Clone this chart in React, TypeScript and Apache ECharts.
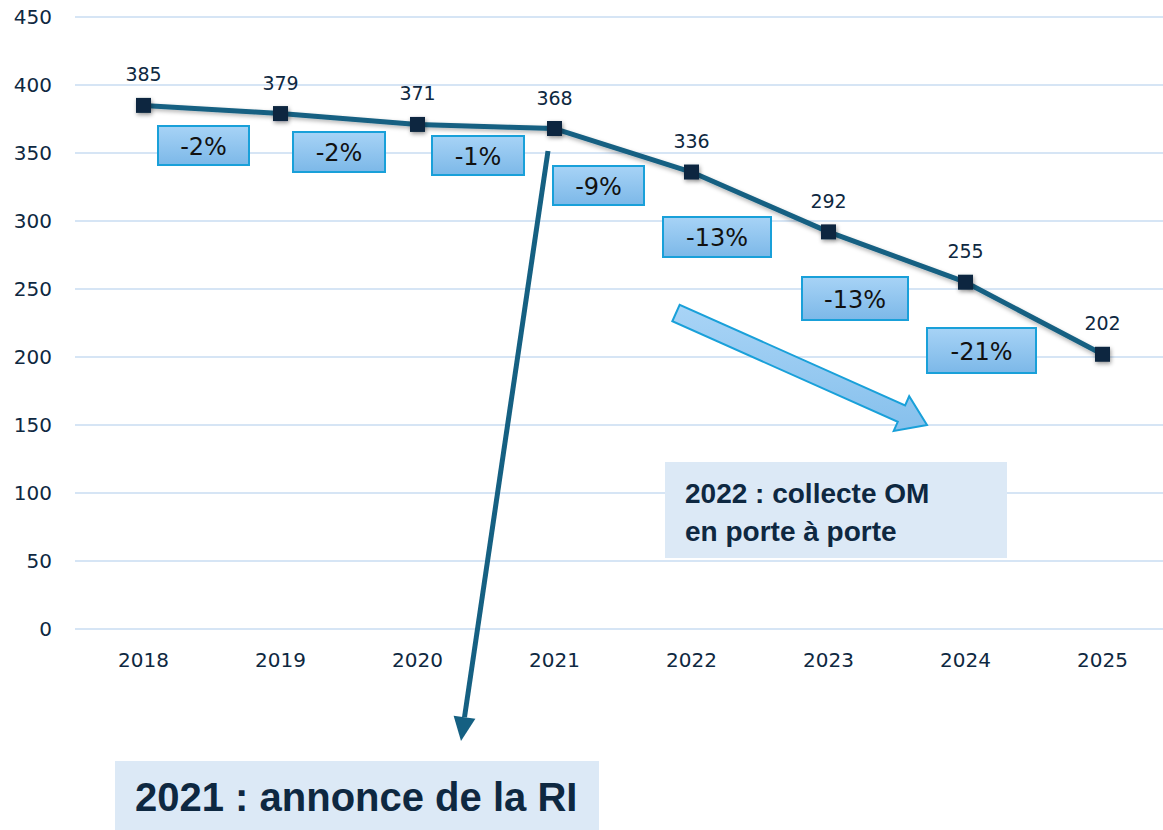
import React, { useEffect, useRef } from "react";
import * as echarts from "echarts";

const years = ["2018", "2019", "2020", "2021", "2022", "2023", "2024", "2025"];
const tonnage = [385, 379, 371, 368, 336, 292, 255, 202];
const changeLabels = ["-2%", "-2%", "-1%", "-9%", "-13%", "-13%", "-21%"];
const noteRI = "2021 : annonce de la RI";
const noteOMLines = ["2022 : collecte OM", "en porte à porte"];

// annotation layout (pixels): [x, y, width, height]
const boxLayout = [
  [158, 126, 91, 39],
  [293, 132, 92, 40],
  [432, 136, 92, 39],
  [553, 166, 91, 39],
  [663, 217, 108, 40],
  [802, 277, 106, 43],
  [927, 328, 109, 45],
];

const NAVY = "#0E2841";
const TEAL = "#156082";

export default function App() {
  const ref = useRef<HTMLDivElement>(null);
  useEffect(() => {
    document.body.style.margin = "0";
    document.body.style.overflow = "hidden";
    const chart = echarts.init(ref.current!, null, { renderer: "svg" });

    const boxGradient = () =>
      new echarts.graphic.LinearGradient(0, 0, 0, 1, [
        { offset: 0, color: "#A7D3F6" },
        { offset: 1, color: "#7CB8E8" },
      ]);

    const pctBoxes: any[] = [];
    changeLabels.forEach((lab, i) => {
      const [x, y, w, h] = boxLayout[i];
      pctBoxes.push({
        type: "rect",
        shape: { x, y, width: w, height: h },
        style: { fill: boxGradient(), stroke: "#19A0D9", lineWidth: 2 },
        z: 10,
      });
      pctBoxes.push({
        type: "text",
        style: {
          text: lab,
          x: x + w / 2,
          y: y + h / 2 + 1,
          textAlign: "center",
          textVerticalAlign: "middle",
          fontSize: 24,
          fontFamily: "DejaVu Sans",
          fill: "#111111",
        },
        z: 11,
      });
    });

    // light blue block arrow
    const T = [676, 313];
    const P = [927, 425];
    const dx = P[0] - T[0], dy = P[1] - T[1];
    const L = Math.hypot(dx, dy);
    const u = [dx / L, dy / L];
    const n = [-u[1], u[0]];
    const hl = 28, sw = 9, hw = 19;
    const B = [P[0] - hl * u[0], P[1] - hl * u[1]];
    const pt = (o: number[], k: number) => [o[0] + k * n[0], o[1] + k * n[1]];
    const blockArrow = {
      type: "polygon",
      shape: {
        points: [pt(T, sw), pt(T, -sw), pt(B, -sw), pt(B, -hw), P, pt(B, hw), pt(B, sw)],
      },
      style: {
        fill: new echarts.graphic.LinearGradient(0, 0, 0, 1, [
          { offset: 0, color: "#A9D4F6" },
          { offset: 1, color: "#86C0EC" },
        ]),
        stroke: "#19A0D9",
        lineWidth: 2,
      },
      z: 9,
    };

    // dark arrow
    const A0 = [548, 151];
    const A1 = [461, 741];
    const adx = A1[0] - A0[0], ady = A1[1] - A0[1];
    const AL = Math.hypot(adx, ady);
    const au = [adx / AL, ady / AL];
    const an = [-au[1], au[0]];
    const ahl = 24, ahw = 11;
    const AB = [A1[0] - ahl * au[0], A1[1] - ahl * au[1]];

    const option: any = {
      animation: false,
      grid: { left: 75, right: 0, top: 17, bottom: 201, containLabel: false },
      xAxis: {
        type: "category",
        data: years,
        boundaryGap: true,
        axisLine: { show: false },
        axisTick: { show: false },
        axisLabel: {
          margin: 21,
          fontSize: 20,
          fontFamily: "DejaVu Sans",
          color: NAVY,
        },
      },
      yAxis: {
        type: "value",
        min: 0,
        max: 450,
        interval: 50,
        axisLine: { show: false },
        axisTick: { show: false },
        axisLabel: {
          margin: 23,
          fontSize: 20,
          fontFamily: "DejaVu Sans",
          color: NAVY,
        },
        splitLine: { lineStyle: { color: "#C8DCF2", width: 1.5 } },
      },
      series: [
        {
          type: "line",
          data: tonnage,
          symbol: "rect",
          symbolSize: 15,
          lineStyle: {
            color: TEAL,
            width: 5,
            shadowColor: "rgba(0,0,0,0.3)",
            shadowBlur: 4,
            shadowOffsetY: 2,
          },
          itemStyle: {
            color: NAVY,
            shadowColor: "rgba(0,0,0,0.4)",
            shadowBlur: 4,
            shadowOffsetX: 1,
            shadowOffsetY: 2,
          },
          label: {
            show: true,
            position: "top",
            distance: 14,
            fontSize: 19,
            fontFamily: "DejaVu Sans",
            color: NAVY,
          },
          z: 5,
        },
      ],
      graphic: [
        ...pctBoxes,
        blockArrow,
        {
          type: "line",
          shape: { x1: A0[0], y1: A0[1], x2: AB[0], y2: AB[1] },
          style: { stroke: TEAL, lineWidth: 5 },
          z: 12,
        },
        {
          type: "polygon",
          shape: {
            points: [
              [AB[0] + ahw * an[0], AB[1] + ahw * an[1]],
              [AB[0] - ahw * an[0], AB[1] - ahw * an[1]],
              A1,
            ],
          },
          style: { fill: TEAL },
          z: 12,
        },
        {
          type: "rect",
          shape: { x: 115, y: 761, width: 484, height: 69 },
          style: { fill: "#DCE9F6" },
          z: 8,
        },
        {
          type: "text",
          style: {
            text: noteRI,
            x: 135,
            y: 797,
            textVerticalAlign: "middle",
            fontSize: 40,
            fontWeight: "bold",
            fontFamily: "Liberation Sans",
            fill: NAVY,
          },
          z: 9,
        },
        {
          type: "rect",
          shape: { x: 665, y: 462, width: 342, height: 96 },
          style: { fill: "#DCE9F6" },
          z: 8,
        },
        ...noteOMLines.map((t, i) => ({
          type: "text",
          style: {
            text: t,
            x: 685,
            y: 493 + i * 38,
            textVerticalAlign: "middle",
            fontSize: 28,
            fontWeight: "bold",
            fontFamily: "Liberation Sans",
            fill: NAVY,
          },
          z: 9,
        })),
      ],
    };
    chart.setOption(option);
    return () => chart.dispose();
  }, []);
  return (
    <div
      ref={ref}
      style={{ position: "absolute", left: 0, top: 0, width: 1171, height: 830 }}
    />
  );
}
